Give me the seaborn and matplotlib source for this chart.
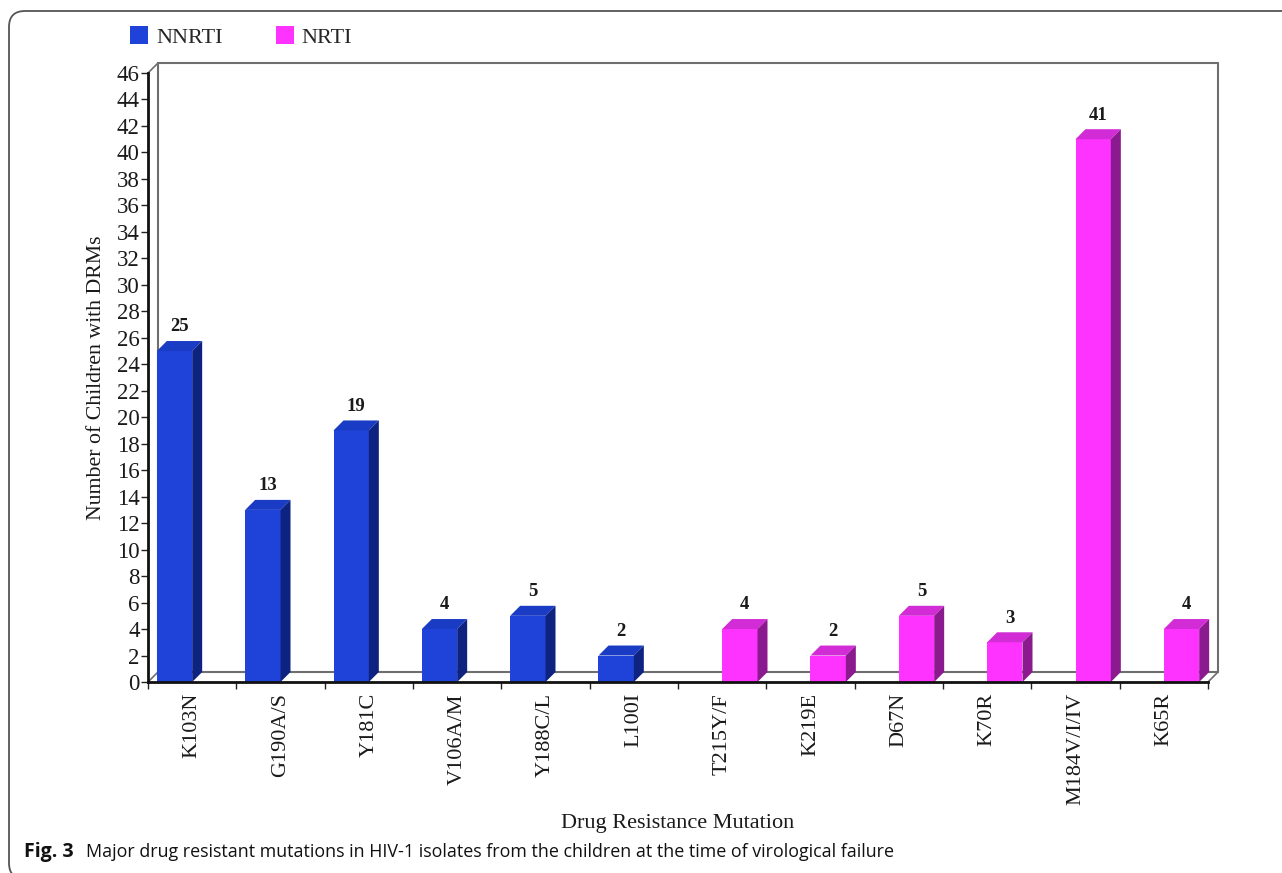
import numpy as np
import pandas as pd
import matplotlib
matplotlib.use("Agg")
import matplotlib.pyplot as plt
import matplotlib.transforms as mtransforms
from matplotlib.patches import Polygon, FancyBboxPatch, Patch
import seaborn as sns

# ---- data ----
mutations = ["K103N", "G190A/S", "Y181C", "V106A/M", "Y188C/L", "L100I",
             "T215Y/F", "K219E", "D67N", "K70R", "M184V/I/IV", "K65R"]
counts = [25, 13, 19, 4, 5, 2, 4, 2, 5, 3, 41, 4]
drug_class = ["NNRTI"] * 6 + ["NRTI"] * 6
classes = ["NNRTI", "NRTI"]
yticks = list(range(0, 47, 2))

front_col = {"NNRTI": "#1f43d9", "NRTI": "#ff33ff"}
top_col = {"NNRTI": "#1a3bc4", "NRTI": "#d12cd6"}
side_col = {"NNRTI": "#0e2280", "NRTI": "#8c1a8f"}

df = pd.DataFrame({"Mutation": mutations, "Count": counts, "Class": drug_class})

sns.set_style("white")
serif = ["Liberation Serif", "DejaVu Serif"]
plt.rcParams["font.family"] = serif

W, H = 1282, 873
fig = plt.figure(figsize=(W / 100, H / 100), dpi=100)
ax = fig.add_axes([148 / W, 1 - 682 / H, (1208 - 148) / W, (682 - 73) / H])

sns.barplot(data=df, x="Mutation", y="Count", hue="Class", order=mutations,
            hue_order=classes, palette=front_col, dodge=True, width=0.8,
            saturation=1, legend=False, ax=ax, zorder=3, linewidth=0)

ax.set_xlim(-0.5, len(mutations) - 0.5)
ax.set_ylim(0, 46)

# depth offsets (pixels -> data)
px_x = (len(mutations)) / (1208 - 148)
px_y = 46 / (682 - 73)
dx, dy = 10 * px_x, 10 * px_y

txt_col = "#1a1a1a"

# 3D faces for each bar
for cont, cls in zip(ax.containers, classes):
    for p in cont:
        h = p.get_height()
        if not np.isfinite(h) or h <= 0:
            continue
        x0, w = p.get_x(), p.get_width()
        top = Polygon([(x0, h), (x0 + w, h), (x0 + w + dx, h + dy), (x0 + dx, h + dy)],
                      closed=True, facecolor=top_col[cls], edgecolor="none", zorder=4,
                      clip_on=False)
        side = Polygon([(x0 + w, 0), (x0 + w, h), (x0 + w + dx, h + dy), (x0 + w + dx, dy)],
                       closed=True, facecolor=side_col[cls], edgecolor="none", zorder=4,
                       clip_on=False)
        ax.add_patch(top)
        ax.add_patch(side)
        ax.annotate(f"{int(h)}", (x0 + w / 2 + dx / 2, h + dy), xytext=(0, 4),
                    textcoords="offset points", ha="center", va="bottom",
                    fontsize=13.5, fontweight="bold", color=txt_col, family=serif,
                    zorder=6, annotation_clip=False)

# back wall / floor lines
x_lo, x_hi = -0.5, len(mutations) - 0.5
grey = "#6e6e6e"
lw = 1.5
ax.plot([x_lo + dx, x_hi + dx], [dy, dy], color=grey, lw=lw, zorder=1, clip_on=False)
ax.plot([x_lo + dx, x_hi + dx], [46 + dy, 46 + dy], color=grey, lw=lw, zorder=1, clip_on=False)
ax.plot([x_lo + dx, x_lo + dx], [dy, 46 + dy], color=grey, lw=lw, zorder=1, clip_on=False)
ax.plot([x_hi + dx, x_hi + dx], [dy, 46 + dy], color=grey, lw=lw, zorder=1, clip_on=False)
ax.plot([x_lo, x_lo + dx], [0, dy], color=grey, lw=1.2, zorder=1, clip_on=False)
ax.plot([x_hi, x_hi + dx], [0, dy], color=grey, lw=1.2, zorder=1, clip_on=False)
ax.plot([x_lo, x_lo + dx], [46, 46 + dy], color=grey, lw=1.2, zorder=1, clip_on=False)

# spines
for s in ["top", "right"]:
    ax.spines[s].set_visible(False)
for s in ["left", "bottom"]:
    ax.spines[s].set_color("#111111")
    ax.spines[s].set_linewidth(2)
    ax.spines[s].set_zorder(5)

# ticks
ax.set_yticks(yticks)
ax.set_yticklabels([str(v) for v in yticks], fontsize=16.5, color=txt_col)
ax.tick_params(axis="y", direction="out", length=5, width=1, color="#222222", pad=1, left=True)
ax.set_xticks(range(len(mutations)))
ax.set_xticklabels(mutations, rotation=90, fontsize=16, color=txt_col)
ax.tick_params(axis="x", which="major", length=0, pad=8)
ax.set_xticks(np.arange(-0.5, len(mutations), 1.0), minor=True)
ax.tick_params(axis="x", which="minor", direction="out", length=5, width=1, color="#222222",
               bottom=True)

ax.set_xlabel("Drug Resistance Mutation", fontsize=16, color=txt_col)
ax.xaxis.set_label_coords(0.5, -(814 - 682) / (682 - 73))
ax.set_ylabel("Number of Children with DRMs", fontsize=15.7, color=txt_col)
ax.yaxis.set_label_coords(-(148 - 106) / (1208 - 148), 0.5)
ax.patch.set_alpha(0)

# legend
handles = [Patch(facecolor=front_col[c], edgecolor="none", label=c) for c in classes]
fig.legend(handles=handles, loc="center left", bbox_to_anchor=(110 / W, 1 - 37 / H),
           ncol=2, frameon=False, handlelength=0.82, handleheight=0.82,
           handletextpad=0.35, columnspacing=2.4, prop={"family": serif, "size": 16})

# caption
sans = ["Open Sans", "DejaVu Sans"]
fig.text(24 / W, 1 - 852 / H, "Fig. 3", fontsize=14, fontweight="bold",
         family=sans, va="center", ha="left", color="#111111")
fig.text(86 / W, 1 - 852 / H,
         "Major drug resistant mutations in HIV-1 isolates from the children at the time of virological failure",
         fontsize=12.9, family=sans, va="center", ha="left", color="#111111")

# rounded figure border (extends beyond right/bottom edges as in the crop)
border = FancyBboxPatch((9, -6), 1320, H - 11 + 6, boxstyle="round,pad=0,rounding_size=16",
                        transform=mtransforms.IdentityTransform(), facecolor="none",
                        edgecolor="#555555", linewidth=1.3)
fig.add_artist(border)

fig.savefig("out.png", dpi=100)
